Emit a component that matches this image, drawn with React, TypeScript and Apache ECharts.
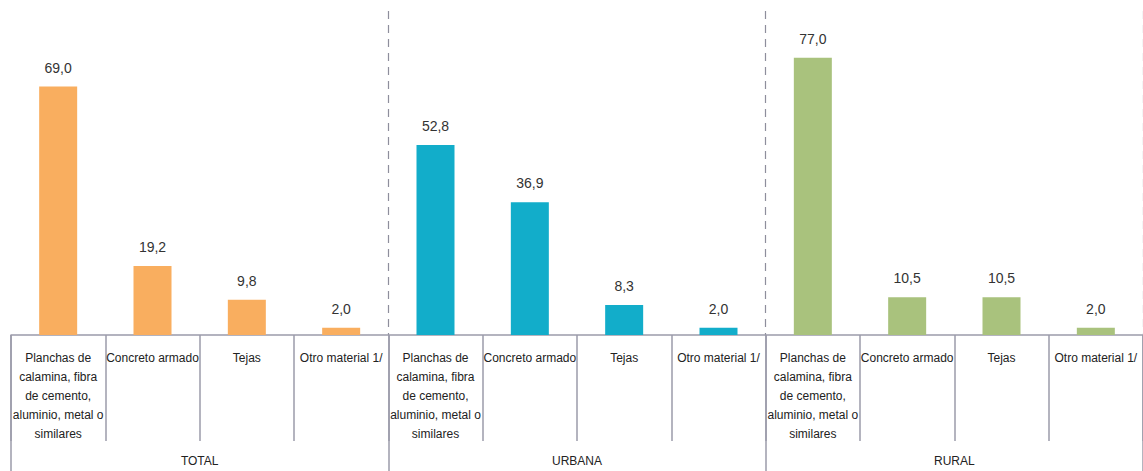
import React, { useEffect, useRef } from "react";
import * as echarts from "echarts";

const categories = [
  "Planchas de\ncalamina, fibra\nde cemento,\naluminio, metal o\nsimilares",
  "Concreto armado",
  "Tejas",
  "Otro material 1/",
  "Planchas de\ncalamina, fibra\nde cemento,\naluminio, metal o\nsimilares",
  "Concreto armado",
  "Tejas",
  "Otro material 1/",
  "Planchas de\ncalamina, fibra\nde cemento,\naluminio, metal o\nsimilares",
  "Concreto armado",
  "Tejas",
  "Otro material 1/",
];
const groups = ["TOTAL", "URBANA", "RURAL"];
const totalValues = [69.0, 19.2, 9.8, 2.0];
const urbanaValues = [52.8, 36.9, 8.3, 2.0];
const ruralValues = [77.0, 10.5, 10.5, 2.0];
const groupColors = ["#F9AE5F", "#12ADCA", "#A9C27D"];

const SANS = '"Liberation Sans", Arial, sans-serif';

export default function App() {
  const ref = useRef<HTMLDivElement>(null);
  useEffect(() => {
    if (!ref.current) return;
    const chart = echarts.init(ref.current, null, { renderer: "svg" });
    const allValues = [totalValues, urbanaValues, ruralValues];
    const data: any[] = [];
    allValues.forEach((vals, g) => {
      vals.forEach((v) => {
        data.push({ value: v, itemStyle: { color: groupColors[g] } });
      });
    });
    const axisColor = "#9B9BAA";
    chart.setOption({
      animation: false,
      grid: { left: 11, width: 1134, top: 11, bottom: 136, containLabel: false },
      xAxis: [
        {
          type: "category",
          data: categories,
          position: "bottom",
          axisLine: { show: true, lineStyle: { color: axisColor, width: 1.5 } },
          axisTick: { show: true, interval: 0, length: 106, lineStyle: { color: axisColor, width: 1.5 } },
          axisLabel: {
            interval: 0,
            margin: 13,
            fontFamily: SANS,
            fontSize: 12,
            lineHeight: 19,
            color: "#222",
            align: "center",
            verticalAlign: "top",
          },
          splitLine: { show: false },
        },
        {
          type: "category",
          data: groups,
          position: "bottom",
          axisLine: { show: false },
          axisTick: { show: true, interval: 0, length: 136, lineStyle: { color: axisColor, width: 1.5 } },
          axisLabel: {
            interval: 0,
            margin: 120,
            fontFamily: SANS,
            fontSize: 12,
            color: "#222",
          },
          splitLine: {
            show: true,
            interval: (index: number) => index === 1 || index === 2,
            lineStyle: { color: "#8E8E9C", type: [8, 6], width: 1.2 },
          },
        },
      ],
      yAxis: {
        type: "value",
        min: 0,
        max: 90,
        show: false,
        splitLine: { show: false },
      },
      series: [
        {
          type: "bar",
          xAxisIndex: 0,
          barWidth: 38,
          data,
          label: {
            show: true,
            position: "top",
            distance: 12,
            fontFamily: SANS,
            fontSize: 14,
            color: "#333",
            formatter: (p: any) => Number(p.value).toFixed(1).replace(".", ","),
          },
        },
      ],
    });
    return () => chart.dispose();
  }, []);
  return (
    <div
      ref={ref}
      style={{ position: "fixed", left: 0, top: 0, width: 1143, height: 471, background: "#fff" }}
    />
  );
}
